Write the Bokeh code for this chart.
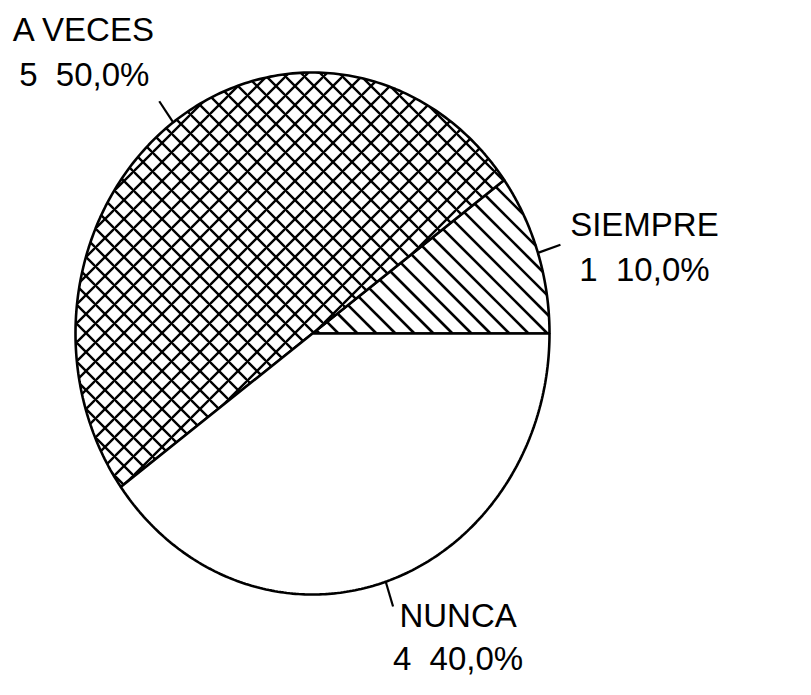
import numpy as np
from bokeh.plotting import figure
from bokeh.models import Range1d
from bokeh.core.properties import value
from bokeh.embed import file_html
from bokeh.resources import INLINE

# ---- data ----
categories = ["SIEMPRE", "A VECES", "NUNCA"]
counts = [1, 5, 4]

# ---- style / layout ----
fill_hatch = [None, "diagonal_cross", None]   # built-in hatch per slice
line_hatch = [True, False, False]              # drawn 45-degree "\" lines
HATCH_GAP = 19
W, H = 795, 679
CX, CY = 312, H - 333      # pie centre (data units = pixels, y up)
RX, RY = 237, 261          # pie radii (slightly oval, as in the scan)
TICK_OUT = 1.1
label_dx = [84, -75, 65]   # label centre offset from tick end (px)
label_dy = [20, 72, -9]    # first baseline offset (up) from tick end (px)
LINE_GAP = [45, 45, 43]
FONT = "Liberation Sans"

p = figure(width=W, height=H, output_backend="svg", toolbar_location=None,
           x_range=Range1d(0, W), y_range=Range1d(0, H),
           x_axis_type=None, y_axis_type=None, min_border=0)
p.grid.visible = False
p.outline_line_color = None
p.background_fill_color = "white"
p.border_fill_color = "white"

total = float(sum(counts))
fracs = [c / total for c in counts]
starts = np.cumsum([0.0] + fracs[:-1]) * 2 * np.pi
ends = np.cumsum(fracs) * 2 * np.pi


def clip_lines(px, py, gap):
    """Clip the family x + y = c to a convex polygon (CCW)."""
    d = np.array([1.0, -1.0]) / np.sqrt(2)
    V = np.column_stack([px, py])
    n_v = len(V)
    cs = np.arange(np.floor((px + py).min() / gap) * gap, (px + py).max(), gap)
    seg_x, seg_y = [], []
    for c in cs:
        P0 = np.array([c / 2.0, c / 2.0])
        lo, hi = -1e9, 1e9
        ok = True
        for k in range(n_v):
            a, b = V[k], V[(k + 1) % n_v]
            e = b - a
            if np.hypot(*e) < 1e-9:
                continue
            nrm = np.array([-e[1], e[0]])
            num = nrm @ (P0 - a)
            den = nrm @ d
            if abs(den) < 1e-12:
                if num < 0:
                    ok = False
                    break
                continue
            t = -num / den
            if den > 0:
                lo = max(lo, t)
            else:
                hi = min(hi, t)
        if ok and hi > lo:
            q0, q1 = P0 + lo * d, P0 + hi * d
            seg_x.append([q0[0], q1[0]])
            seg_y.append([q0[1], q1[1]])
    return seg_x, seg_y


for i, cat in enumerate(categories):
    t = np.linspace(starts[i], ends[i], 200)
    xs = np.concatenate([[CX], CX + RX * np.cos(t)])
    ys = np.concatenate([[CY], CY + RY * np.sin(t)])
    kw = {}
    if fill_hatch[i]:
        kw = dict(hatch_pattern=fill_hatch[i], hatch_color="black",
                  hatch_weight=2.4, hatch_scale=HATCH_GAP)
    p.patch(xs, ys, fill_color="white", line_color=None, **kw)
    if line_hatch[i]:
        sx, sy = clip_lines(xs, ys, HATCH_GAP)
        p.multi_line(sx, sy, line_color="black", line_width=2.6)
    p.patch(xs, ys, fill_color=None, line_color="black", line_width=2.6)

# leader ticks and labels
for i, cat in enumerate(categories):
    mid = (starts[i] + ends[i]) / 2
    x0, y0 = CX + RX * np.cos(mid), CY + RY * np.sin(mid)
    x1, y1 = CX + TICK_OUT * RX * np.cos(mid), CY + TICK_OUT * RY * np.sin(mid)
    p.line([x0, x1], [y0, y1], line_color="black", line_width=2.2)
    pct = f"{fracs[i] * 100:.1f}".replace(".", ",")
    lx = x1 + label_dx[i]
    ly = y1 + label_dy[i]
    p.text(x=[lx], y=[ly], text=[cat], text_align="center",
           text_baseline="alphabetic", text_font=value(FONT),
           text_font_size="33px", text_color="black")
    p.text(x=[lx], y=[ly - LINE_GAP[i]], text=[f"{counts[i]}\u00a0 {pct}%"],
           text_align="center", text_baseline="alphabetic",
           text_font=value(FONT), text_font_size="33px", text_color="black")

open("out.html", "w").write(file_html(p, INLINE))
